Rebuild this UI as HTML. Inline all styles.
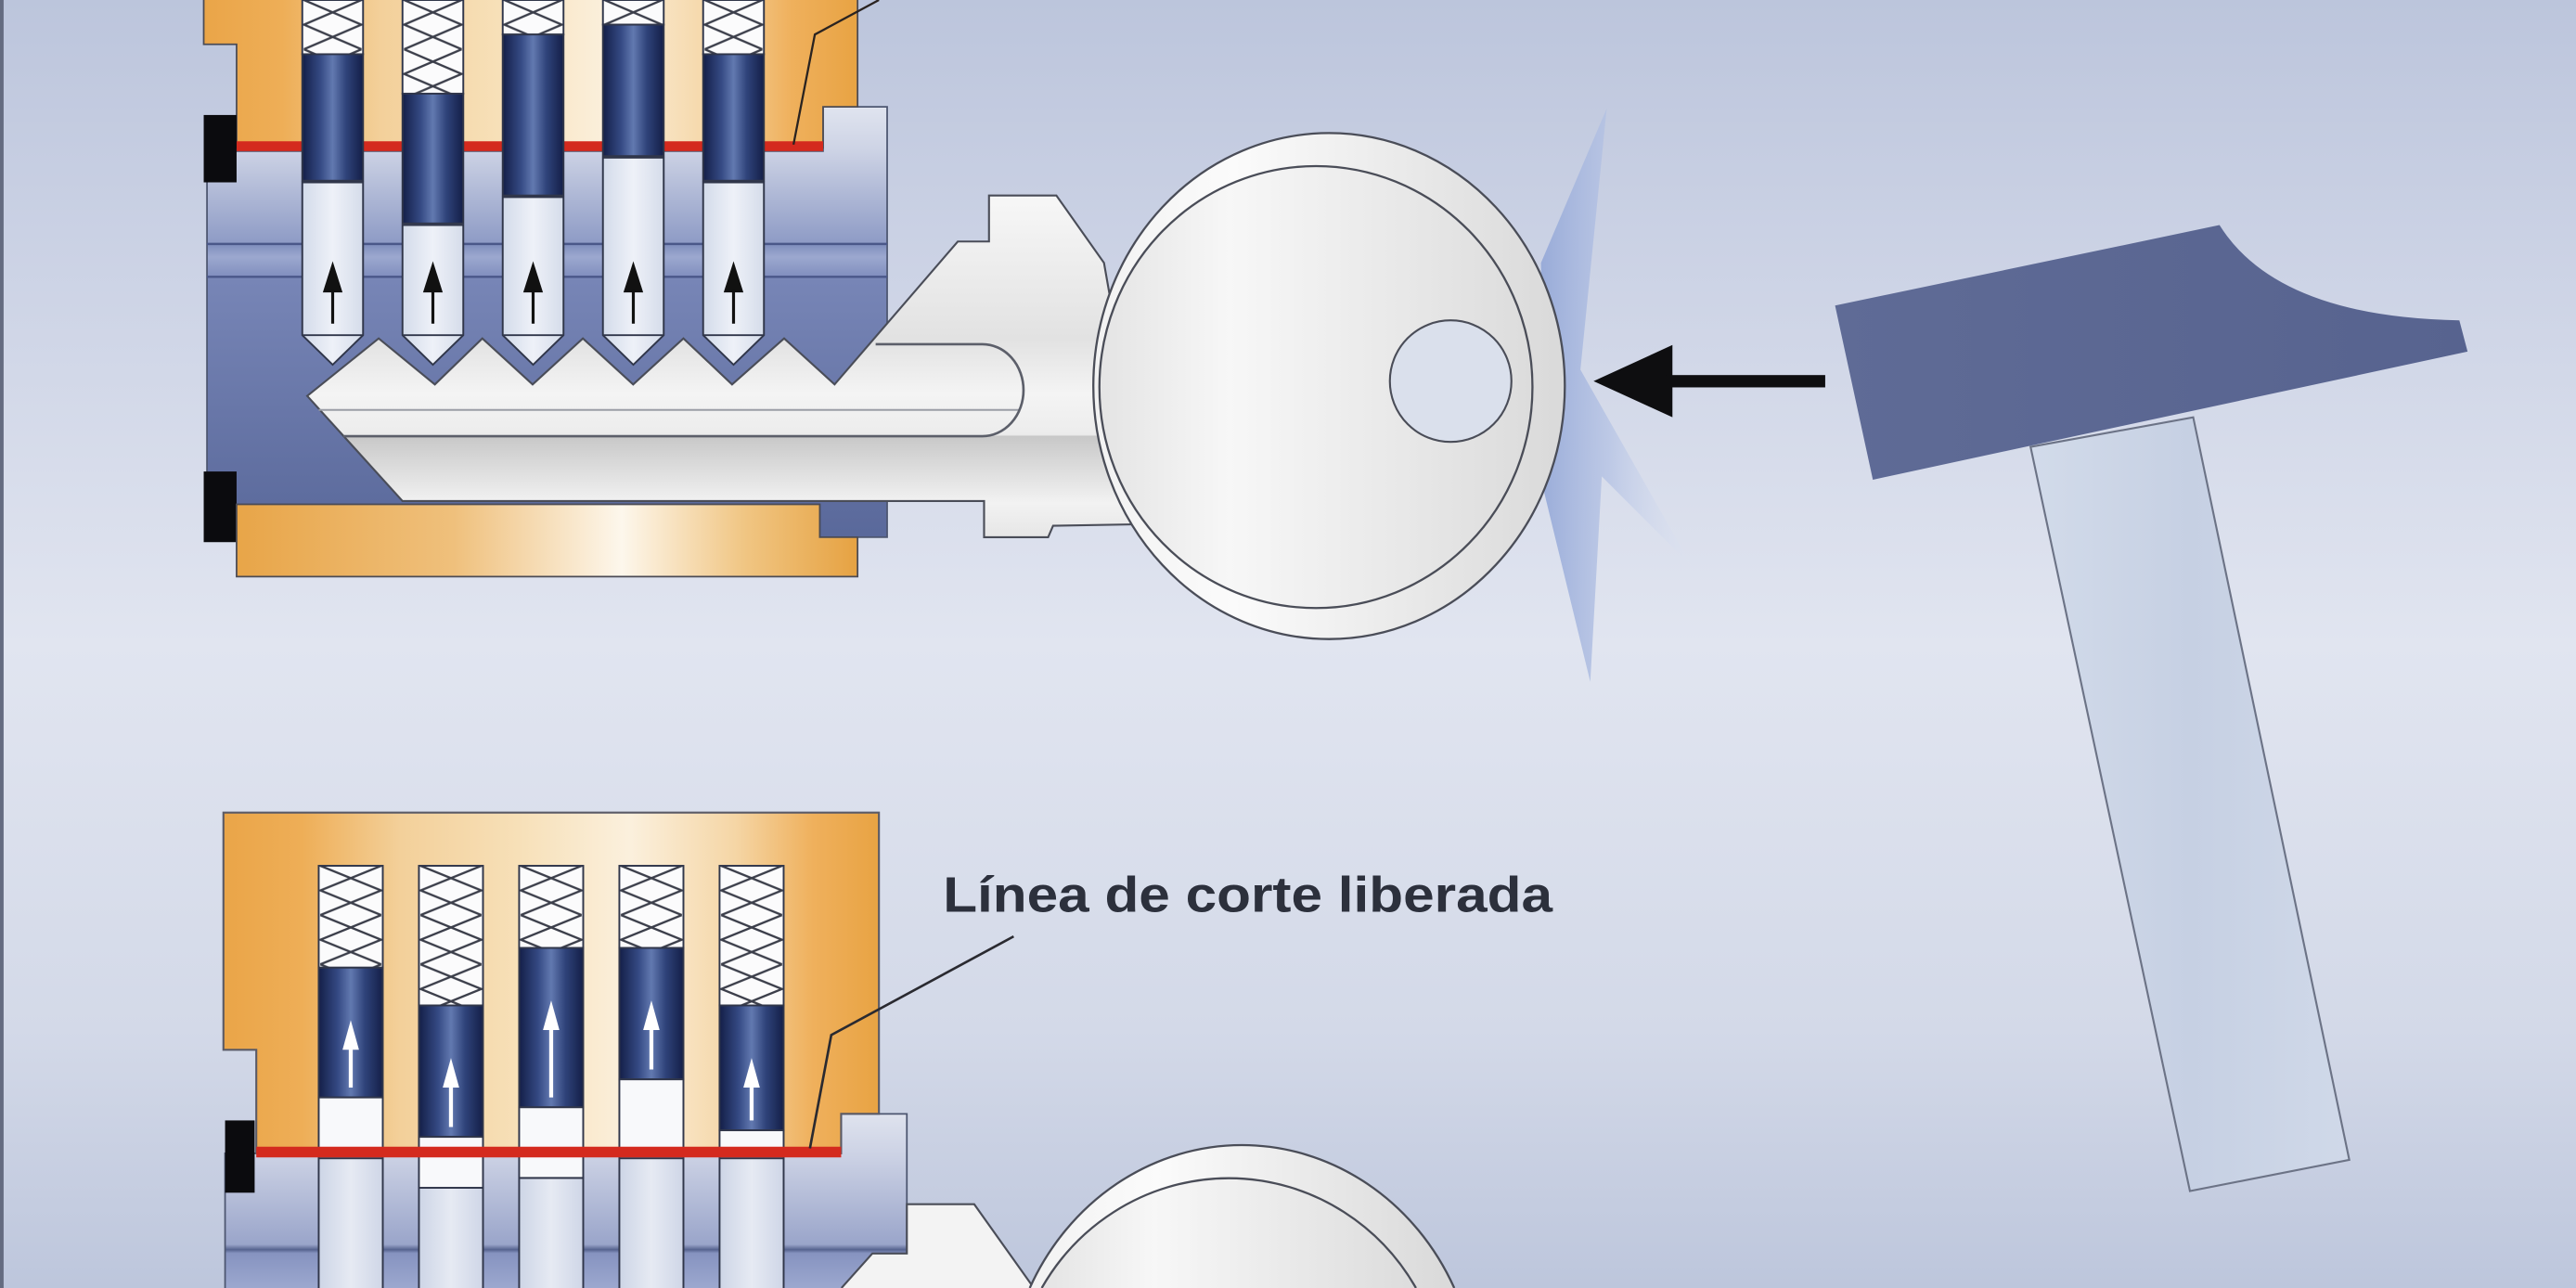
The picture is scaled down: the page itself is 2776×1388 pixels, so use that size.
<!DOCTYPE html>
<html><head><meta charset="utf-8">
<style>html,body{margin:0;padding:0;width:2776px;height:1388px;overflow:hidden;background:#d6dcea}svg{display:block;overflow:hidden}</style></head>
<body>
<svg width="2776" height="1388" viewBox="0 0 1568 784" xmlns="http://www.w3.org/2000/svg">
<defs>
 <linearGradient id="bg" x1="0" y1="0" x2="0" y2="1">
  <stop offset="0" stop-color="#bcc5dc"/>
  <stop offset="0.18" stop-color="#cad1e4"/>
  <stop offset="0.5" stop-color="#e1e5f0"/>
  <stop offset="0.8" stop-color="#d3d9e8"/>
  <stop offset="1" stop-color="#bdc6dc"/>
 </linearGradient>
 <linearGradient id="gold" x1="0" y1="0" x2="1" y2="0">
  <stop offset="0" stop-color="#eaa548"/>
  <stop offset="0.12" stop-color="#eeae57"/>
  <stop offset="0.27" stop-color="#f3d09a"/>
  <stop offset="0.45" stop-color="#f7e0b8"/>
  <stop offset="0.62" stop-color="#fbf0dd"/>
  <stop offset="0.78" stop-color="#f5d6a6"/>
  <stop offset="0.9" stop-color="#efb05c"/>
  <stop offset="1" stop-color="#e8a343"/>
 </linearGradient>
 <linearGradient id="gold2" x1="0" y1="0" x2="1" y2="0">
  <stop offset="0" stop-color="#e8a548"/>
  <stop offset="0.35" stop-color="#efc07c"/>
  <stop offset="0.62" stop-color="#fdf7ec"/>
  <stop offset="0.82" stop-color="#f0c582"/>
  <stop offset="1" stop-color="#e6a242"/>
 </linearGradient>
 <linearGradient id="plugT" gradientUnits="userSpaceOnUse" x1="0" y1="65" x2="0" y2="330">
  <stop offset="0" stop-color="#e0e4ef"/>
  <stop offset="0.1" stop-color="#cdd3e5"/>
  <stop offset="0.31" stop-color="#8f9cc6"/>
  <stop offset="0.4" stop-color="#7785b6"/>
  <stop offset="1" stop-color="#59689a"/>
 </linearGradient>
 <linearGradient id="bandT" x1="0" y1="0" x2="0" y2="1">
  <stop offset="0" stop-color="#7d8bbb"/>
  <stop offset="0.4" stop-color="#9ca8cf"/>
  <stop offset="1" stop-color="#7f8dbd"/>
 </linearGradient>
 <linearGradient id="plugB" gradientUnits="userSpaceOnUse" x1="0" y1="678" x2="0" y2="784">
  <stop offset="0" stop-color="#dfe3ee"/>
  <stop offset="0.25" stop-color="#cbd1e4"/>
  <stop offset="0.75" stop-color="#9aa5ca"/>
  <stop offset="0.78" stop-color="#56638f"/>
  <stop offset="0.8" stop-color="#8693c0"/>
  <stop offset="1" stop-color="#9ca8cf"/>
 </linearGradient>
 <linearGradient id="navy" x1="0" y1="0" x2="1" y2="0">
  <stop offset="0" stop-color="#141f48"/>
  <stop offset="0.3" stop-color="#354a84"/>
  <stop offset="0.5" stop-color="#6279b0"/>
  <stop offset="0.72" stop-color="#2f437a"/>
  <stop offset="1" stop-color="#141f48"/>
 </linearGradient>
 <linearGradient id="kpin" x1="0" y1="0" x2="1" y2="0">
  <stop offset="0" stop-color="#d3dbea"/>
  <stop offset="0.5" stop-color="#eef1f8"/>
  <stop offset="1" stop-color="#d5dcea"/>
 </linearGradient>
 <linearGradient id="lcol" x1="0" y1="0" x2="1" y2="0">
  <stop offset="0" stop-color="#cdd5e6"/>
  <stop offset="0.5" stop-color="#e6eaf3"/>
  <stop offset="1" stop-color="#cfd6e7"/>
 </linearGradient>
 <linearGradient id="blade" gradientUnits="userSpaceOnUse" x1="0" y1="119" x2="0" y2="327">
  <stop offset="0" stop-color="#f7f7f7"/>
  <stop offset="0.42" stop-color="#e2e2e2"/>
  <stop offset="0.58" stop-color="#f4f4f4"/>
  <stop offset="0.7" stop-color="#ececec"/>
  <stop offset="0.705" stop-color="#c8c8c8"/>
  <stop offset="0.9" stop-color="#f2f2f2"/>
  <stop offset="1" stop-color="#e6e6e6"/>
 </linearGradient>
 <linearGradient id="bow" x1="0" y1="0" x2="1" y2="0">
  <stop offset="0" stop-color="#f2f2f2"/>
  <stop offset="0.3" stop-color="#fbfbfb"/>
  <stop offset="1" stop-color="#d9d9d9"/>
 </linearGradient>
 <linearGradient id="bow2" x1="0" y1="0" x2="1" y2="0">
  <stop offset="0" stop-color="#e4e4e4"/>
  <stop offset="0.3" stop-color="#f7f7f7"/>
  <stop offset="0.7" stop-color="#e8e8e8"/>
  <stop offset="1" stop-color="#dcdcdc"/>
 </linearGradient>
 <linearGradient id="burst" x1="0" y1="0" x2="1" y2="0">
  <stop offset="0" stop-color="#93a7d7" stop-opacity="0.9"/>
  <stop offset="0.45" stop-color="#b4c2e4" stop-opacity="0.75"/>
  <stop offset="1" stop-color="#dfe5f3" stop-opacity="0.15"/>
 </linearGradient>
 <linearGradient id="head" x1="0" y1="0" x2="1" y2="0">
  <stop offset="0" stop-color="#5f6b96"/>
  <stop offset="1" stop-color="#57638f"/>
 </linearGradient>
 <linearGradient id="handle" x1="0" y1="0" x2="1" y2="0">
  <stop offset="0" stop-color="#d2dbea"/>
  <stop offset="0.5" stop-color="#c6d0e3"/>
  <stop offset="1" stop-color="#d0d9e9"/>
 </linearGradient>
 <pattern id="sprT" patternUnits="userSpaceOnUse" x="184" y="0" width="61" height="30">
  <rect x="0" y="0" width="37" height="30" fill="#fbfbfc"/>
  <path d="M1,0 L36,15 L1,30 M36,0 L1,15 L36,30" fill="none" stroke="#3b3e4a" stroke-width="1.3"/>
 </pattern>
 <pattern id="sprB" patternUnits="userSpaceOnUse" x="194" y="527" width="61" height="30">
  <rect x="0" y="0" width="39" height="30" fill="#fbfbfc"/>
  <path d="M1,0 L38,15 L1,30 M38,0 L1,15 L38,30" fill="none" stroke="#3b3e4a" stroke-width="1.3"/>
 </pattern>
</defs>

<!-- background -->
<rect x="0" y="0" width="1568" height="784" fill="url(#bg)"/>
<rect x="0" y="0" width="2.2" height="784" fill="#646b80"/>

<!-- ================= TOP LOCK ================= -->
<path d="M126,92 H501 V65 H540 V327 H499 V307 H126 Z" fill="url(#plugT)" stroke="#4d5670" stroke-width="1"/>
<rect x="126.5" y="148" width="413" height="21" fill="url(#bandT)"/>
<line x1="126" y1="148.5" x2="540" y2="148.5" stroke="#4a5789" stroke-width="1.4"/>
<line x1="126" y1="168.5" x2="540" y2="168.5" stroke="#4a5789" stroke-width="1.4"/>
<path d="M124,0 V27 H144 V90 H501 V65 H522 V0" fill="url(#gold)" stroke="#4b4b55" stroke-width="1"/>
<rect x="144" y="86" width="357" height="6" fill="#d42a1e"/>
<rect x="124" y="70" width="20" height="41" fill="#0b0b0e"/>
<rect x="124" y="287" width="20" height="43" fill="#0b0b0e"/>
<path d="M144,307 H499 V327 H522 V351 H144 Z" fill="url(#gold2)" stroke="#4b4b55" stroke-width="1"/>

<g stroke="#30364a" stroke-width="1.1">
 <path d="M184,0 V33 H221 V0 Z" fill="url(#sprT)"/>
 <path d="M245,0 V57 H282 V0 Z" fill="url(#sprT)"/>
 <path d="M306,0 V21 H343 V0 Z" fill="url(#sprT)"/>
 <path d="M367,0 V15 H404 V0 Z" fill="url(#sprT)"/>
 <path d="M428,0 V33 H465 V0 Z" fill="url(#sprT)"/>

 <rect x="184" y="33" width="37" height="77" fill="url(#navy)"/>
 <rect x="245" y="57" width="37" height="79" fill="url(#navy)"/>
 <rect x="306" y="21" width="37" height="98" fill="url(#navy)"/>
 <rect x="367" y="15" width="37" height="80" fill="url(#navy)"/>
 <rect x="428" y="33" width="37" height="77" fill="url(#navy)"/>

 <path d="M184,111 H221 V204 L202.5,222 L184,204 Z" fill="url(#kpin)"/>
 <path d="M245,137 H282 V204 L263.5,222 L245,204 Z" fill="url(#kpin)"/>
 <path d="M306,120 H343 V204 L324.5,222 L306,204 Z" fill="url(#kpin)"/>
 <path d="M367,96 H404 V204 L385.5,222 L367,204 Z" fill="url(#kpin)"/>
 <path d="M428,111 H465 V204 L446.5,222 L428,204 Z" fill="url(#kpin)"/>
 <path d="M184,204 H221 M245,204 H282 M306,204 H343 M367,204 H404 M428,204 H465" fill="none"/>
</g>
<g fill="#111" stroke="#111" stroke-width="1.8">
 <path d="M202.5,159 L196.5,178 L208.5,178 Z" stroke="none"/><line x1="202.5" y1="176" x2="202.5" y2="197"/>
 <path d="M263.5,159 L257.5,178 L269.5,178 Z" stroke="none"/><line x1="263.5" y1="176" x2="263.5" y2="197"/>
 <path d="M324.5,159 L318.5,178 L330.5,178 Z" stroke="none"/><line x1="324.5" y1="176" x2="324.5" y2="197"/>
 <path d="M385.5,159 L379.5,178 L391.5,178 Z" stroke="none"/><line x1="385.5" y1="176" x2="385.5" y2="197"/>
 <path d="M446.5,159 L440.5,178 L452.5,178 Z" stroke="none"/><line x1="446.5" y1="176" x2="446.5" y2="197"/>
</g>

<polyline points="535,0 496,21 483,88" fill="none" stroke="#2a2320" stroke-width="1.3"/>

<!-- impact burst -->
<path d="M978,66 L962,225 L1030,345 L975,290 L968,415 L940,300 L938,160 Z" fill="url(#burst)"/>

<!-- top key -->
<path d="M187,241 L230.5,206 L264.7,234 L293.6,206 L324.2,234 L354.8,206 L385.4,234 L416,206 L445.6,234 L477.3,206 L508,234 L583,147 L602,147 L602,119 L643,119 L672,160 L700,319 L641,320 L638,327 L599,327 L599,305 L245,305 Z" fill="url(#blade)" stroke="#4a4d58" stroke-width="1.2"/>
<line x1="194" y1="249.5" x2="621" y2="249.5" stroke="#9a9da6" stroke-width="1.1"/>
<path d="M533,209.5 H598 A25,28 0 0 1 598,265.5 H209" fill="none" stroke="#5c5f6a" stroke-width="1.5"/>
<ellipse cx="809" cy="235" rx="143.5" ry="154" fill="url(#bow)" stroke="#4a4d58" stroke-width="1.3"/>
<ellipse cx="801" cy="235.6" rx="131.8" ry="134.5" fill="url(#bow2)" stroke="#4a4d58" stroke-width="1.3"/>
<circle cx="883" cy="232" r="37" fill="#dae0ec" stroke="#4a4d58" stroke-width="1.2"/>

<!-- arrow -->
<path d="M970,232 L1018,210 L1018,254 Z" fill="#0e0e10"/>
<rect x="1014" y="228.3" width="97" height="7.5" fill="#0e0e10"/>

<!-- hammer -->
<path d="M1236,272 L1335,254 L1430,706 L1333,725 Z" fill="url(#handle)" stroke="#6c7386" stroke-width="1.2"/>
<path d="M1117,186 L1351,137 Q1386,193 1497,195 L1502,214 L1140,292 Z" fill="url(#head)"/>

<!-- ================= BOTTOM LOCK ================= -->
<path d="M137,784 V702 H512 V678 H552 V784" fill="url(#plugB)" stroke="#4d5670" stroke-width="1"/>
<path d="M136,494.6 H535 V678 H512 V702 H156 V639 H136 Z" fill="url(#gold)" stroke="#5a5a66" stroke-width="1.2"/>
<rect x="137" y="682" width="18" height="44" fill="#0b0b0e"/>

<g stroke="#30364a" stroke-width="1.1">
 <rect x="194" y="527" width="39" height="62" fill="url(#sprB)"/>
 <rect x="255" y="527" width="39" height="85" fill="url(#sprB)"/>
 <rect x="316" y="527" width="39" height="50" fill="url(#sprB)"/>
 <rect x="377" y="527" width="39" height="50" fill="url(#sprB)"/>
 <rect x="438" y="527" width="39" height="85" fill="url(#sprB)"/>

 <rect x="194" y="589" width="39" height="79" fill="url(#navy)"/>
 <rect x="255" y="612" width="39" height="80" fill="url(#navy)"/>
 <rect x="316" y="577" width="39" height="97" fill="url(#navy)"/>
 <rect x="377" y="577" width="39" height="80" fill="url(#navy)"/>
 <rect x="438" y="612" width="39" height="76" fill="url(#navy)"/>

 <path d="M194,784 V705 H233 V784" fill="url(#lcol)"/>
 <path d="M255,784 V723 H294 V784" fill="url(#lcol)"/>
 <path d="M316,784 V717 H355 V784" fill="url(#lcol)"/>
 <path d="M377,784 V705 H416 V784" fill="url(#lcol)"/>
 <path d="M438,784 V705 H477 V784" fill="url(#lcol)"/>

 <rect x="194" y="668" width="39" height="37" fill="#f8f9fb"/>
 <rect x="255" y="692" width="39" height="31" fill="#f8f9fb"/>
 <rect x="316" y="674" width="39" height="43" fill="#f8f9fb"/>
 <rect x="377" y="657" width="39" height="48" fill="#f8f9fb"/>
 <rect x="438" y="688" width="39" height="17" fill="#f8f9fb"/>
</g>
<g fill="#ffffff" stroke="#ffffff" stroke-width="2.4">
 <path d="M213.5,621 L208.5,639 L218.5,639 Z" stroke="none"/><line x1="213.5" y1="637" x2="213.5" y2="662"/>
 <path d="M274.5,644 L269.5,662 L279.5,662 Z" stroke="none"/><line x1="274.5" y1="660" x2="274.5" y2="686"/>
 <path d="M335.5,609 L330.5,627 L340.5,627 Z" stroke="none"/><line x1="335.5" y1="625" x2="335.5" y2="668"/>
 <path d="M396.5,609 L391.5,627 L401.5,627 Z" stroke="none"/><line x1="396.5" y1="625" x2="396.5" y2="651"/>
 <path d="M457.5,644 L452.5,662 L462.5,662 Z" stroke="none"/><line x1="457.5" y1="660" x2="457.5" y2="682"/>
</g>
<rect x="156" y="698" width="356" height="6.5" fill="#d42a1e"/>

<!-- bottom key -->
<path d="M512.2,784 L531,763 L552,763 L552,733 L593,733 L629.3,784 Z" fill="#f3f3f3"/>
<path d="M512.2,784 L531,763 L552,763 L552,733 L593,733 L629.3,784" fill="none" stroke="#4a4d58" stroke-width="1.2"/>
<path d="M626.8,784 A143.5,154 0 0 1 885.2,784 Z" fill="url(#bow)"/>
<path d="M626.8,784 A143.5,154 0 0 1 885.2,784" fill="none" stroke="#4a4d58" stroke-width="1.3"/>
<path d="M634.1,784 A131.8,134.5 0 0 1 861.9,784 Z" fill="url(#bow2)"/>
<path d="M634.1,784 A131.8,134.5 0 0 1 861.9,784" fill="none" stroke="#4a4d58" stroke-width="1.3"/>

<!-- label + leader -->
<polyline points="617,570 506,630 493,699" fill="none" stroke="#2a2a30" stroke-width="1.5"/>
<text x="574" y="555" font-family="'Liberation Sans', 'DejaVu Sans', sans-serif" font-weight="700" font-size="30.5" fill="#2c303c" textLength="371" lengthAdjust="spacingAndGlyphs">Línea de corte liberada</text>
</svg>
</body></html>
